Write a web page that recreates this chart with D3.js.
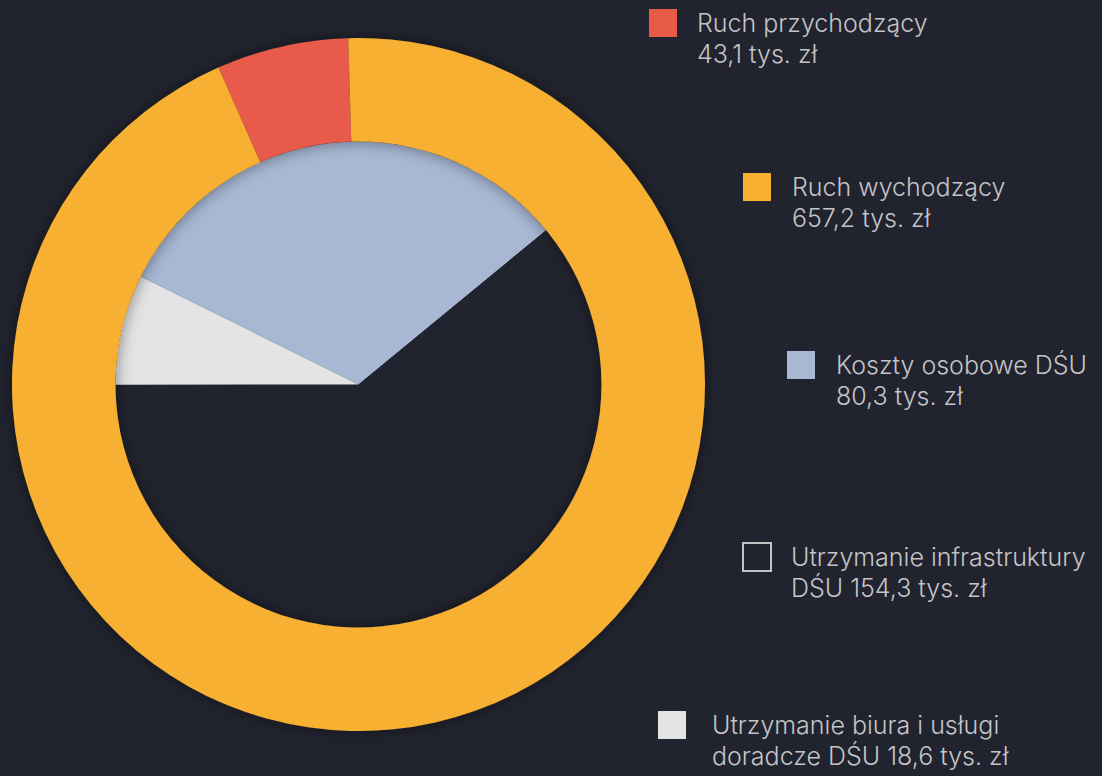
<!DOCTYPE html>
<html>
<head>
<meta charset="utf-8">
<script src="https://cdn.jsdelivr.net/npm/d3@7"></script>
<style>
  html, body { margin: 0; padding: 0; background: #21232e; }
  svg { display: block; }
  .legend-text { font-family: Inter, sans-serif; font-weight: 300; font-size: 25px; fill: #c4c4c6; }
</style>
</head>
<body>
<svg id="chart" width="1102" height="776"></svg>
<script>
// outer ring: traffic
const ringNames = ['Ruch przychodzący', 'Ruch wychodzący']
const ringValues = [43.1, 657.2]
const ringColors = ['#e85a48', '#f7b030']

// inner pie: DŚU costs
const pieNames = ['Koszty osobowe DŚU', 'Utrzymanie infrastruktury DŚU', 'Utrzymanie biura i usługi doradcze DŚU']
const pieValues = [80.3, 154.3, 18.6]
const pieColors = ['#a8b8d4', '#21232e', '#e4e4e4']

// legend lines, as printed
const legendLines = [
    ['Ruch przychodzący', '43,1 tys. zł'],
    ['Ruch wychodzący', '657,2 tys. zł'],
    ['Koszty osobowe DŚU', '80,3 tys. zł'],
    ['Utrzymanie infrastruktury', 'DŚU 154,3 tys. zł'],
    ['Utrzymanie biura i usługi', 'doradcze DŚU 18,6 tys. zł']
]
const legendSwatches = [ringColors[0], ringColors[1], pieColors[0], pieColors[1], pieColors[2]]
const legendPos = [[648, 8], [742, 172], [786, 350], [742, 542], [657, 710]]
const legendTextX = [49, 50, 50, 49, 55]

const svg = d3.select('#chart')
const cx = 358.5, cy = 384.5
const rOuter = 346.5, rInner = 243

const defs = svg.append('defs')
const shadow = defs.append('filter').attr('id', 'shadow')
    .attr('x', '-20%').attr('y', '-20%').attr('width', '140%').attr('height', '140%')
shadow.append('feDropShadow')
    .attr('dx', 0).attr('dy', 0).attr('stdDeviation', 8)
    .attr('flood-color', '#000').attr('flood-opacity', 0.45)

const deg = Math.PI / 180
const g = svg.append('g').attr('transform', `translate(${cx},${cy})`)

// inner pie
const pieGen = d3.pie().sort(null).startAngle(-63.6 * deg).endAngle(296.4 * deg)
const pieArc = d3.arc().innerRadius(0).outerRadius(rInner)
g.append('g').selectAll('path')
    .data(pieGen(pieValues))
    .enter()
    .append('path')
    .attr('d', pieArc)
    .attr('fill', (d, i) => pieColors[i])

// outer ring
const ringGen = d3.pie().sort(null).startAngle(-23.85 * deg).endAngle(336.15 * deg)
const ringArc = d3.arc().innerRadius(rInner).outerRadius(rOuter)
g.append('g').attr('filter', 'url(#shadow)').selectAll('path')
    .data(ringGen(ringValues))
    .enter()
    .append('path')
    .attr('d', ringArc)
    .attr('fill', (d, i) => ringColors[i])

// legend
const legend = svg.append('g')
const items = legend.selectAll('g')
    .data(legendLines)
    .enter()
    .append('g')
    .attr('transform', (d, i) => `translate(${legendPos[i][0]},${legendPos[i][1]})`)

items.append('rect')
    .attr('x', 1).attr('y', 1)
    .attr('width', 28).attr('height', 28)
    .attr('fill', (d, i) => legendSwatches[i])
    .attr('stroke', (d, i) => i == 3 ? '#c4c4c6' : 'none')
    .attr('stroke-width', 2)

items.append('text')
    .attr('class', 'legend-text')
    .attr('y', 24)
    .selectAll('tspan')
    .data((d, i) => d.map(t => ({ t, x: legendTextX[i] })))
    .enter()
    .append('tspan')
    .attr('x', d => d.x)
    .attr('dy', (d, i) => i == 0 ? 0 : 31)
    .text(d => d.t)
</script>
</body>
</html>
